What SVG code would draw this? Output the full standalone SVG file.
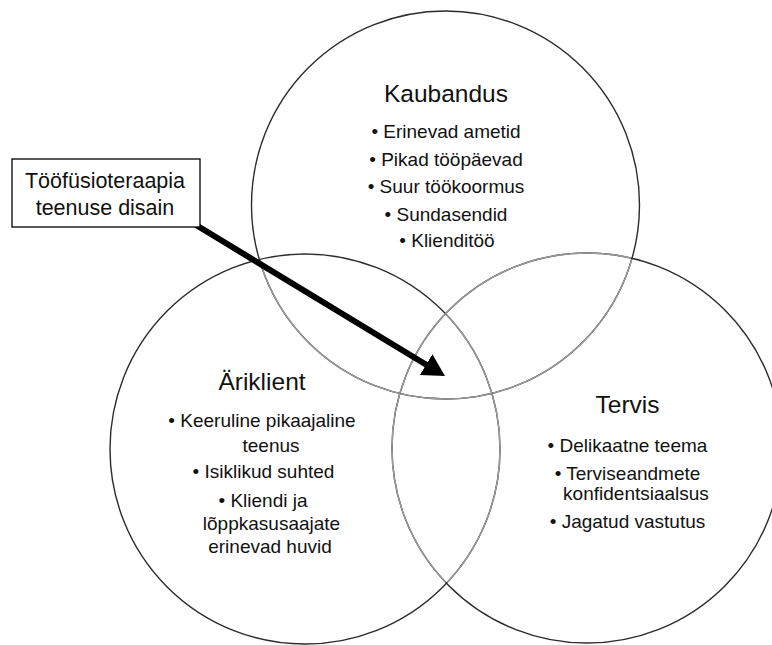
<svg xmlns="http://www.w3.org/2000/svg" width="772" height="645" viewBox="0 0 772 645">
  <style>
    .ring { fill: none; stroke: #2b2b2b; stroke-width: 1.4; }
    .ring-inner { fill: none; stroke: #9a9a9a; stroke-width: 1.4; }
    text { font-family: "Liberation Sans", Arial, sans-serif; fill: #111111; text-anchor: middle; }
    .title { font-size: 24.5px; }
    .item { font-size: 19px; }
    .label { font-size: 21.5px; }
    .box { fill: #ffffff; stroke: #000000; stroke-width: 1.3; }
    .arrow { fill: none; stroke: #000000; stroke-width: 6; }
  </style>
  <defs>
    <marker id="head" viewBox="0 0 22 24" refX="4" refY="12" markerWidth="22" markerHeight="24" markerUnits="userSpaceOnUse" orient="auto">
      <path d="M0,0 L22,12 L0,24 z" fill="#000000"/>
    </marker>
    <!-- areas covered by the other circles: outlines there are drawn lighter -->
    <clipPath id="in-left-right">
      <circle cx="305" cy="449" r="194"/>
      <circle cx="587" cy="448" r="194"/>
    </clipPath>
    <clipPath id="in-right">
      <circle cx="587" cy="448" r="194"/>
    </clipPath>
    <clipPath id="in-top-left">
      <circle cx="445.5" cy="205" r="193"/>
      <circle cx="305" cy="449" r="194"/>
    </clipPath>
  </defs>

  <rect x="0" y="0" width="772" height="645" fill="#ffffff"/>

  <g id="kaubandus">
    <circle class="ring" cx="445.5" cy="205" r="194"/>
    <circle class="ring-inner" cx="445.5" cy="205" r="194" clip-path="url(#in-left-right)"/>
    <text class="title" x="446" y="102">Kaubandus</text>
    <text class="item" x="446" y="138">• Erinevad ametid</text>
    <text class="item" x="446" y="166">• Pikad tööpäevad</text>
    <text class="item" x="446" y="193">• Suur töökoormus</text>
    <text class="item" x="446" y="221">• Sundasendid</text>
    <text class="item" x="447" y="247">• Klienditöö</text>
  </g>

  <g id="ariklient">
    <circle class="ring" cx="305" cy="449" r="195"/>
    <circle class="ring-inner" cx="305" cy="449" r="195" clip-path="url(#in-right)"/>
    <text class="title" x="262" y="390">Äriklient</text>
    <text class="item" x="262" y="427">• Keeruline pikaajaline</text>
    <text class="item" x="271" y="452">teenus</text>
    <text class="item" x="263.5" y="478">• Isiklikud suhted</text>
    <text class="item" x="263" y="507">• Kliendi ja</text>
    <text class="item" x="271.5" y="530">lõppkasusaajate</text>
    <text class="item" x="270" y="553">erinevad huvid</text>
  </g>

  <g id="tervis">
    <circle class="ring" cx="587" cy="448" r="195"/>
    <circle class="ring-inner" cx="587" cy="448" r="195" clip-path="url(#in-top-left)"/>
    <text class="title" x="627.5" y="413">Tervis</text>
    <text class="item" x="627.5" y="452">• Delikaatne teema</text>
    <text class="item" x="627.5" y="480">• Terviseandmete</text>
    <text class="item" x="636" y="500">konfidentsiaalsus</text>
    <text class="item" x="627.5" y="528">• Jagatud vastutus</text>
  </g>

  <!-- connectors -->
  <g id="connectors">
    <path class="arrow" d="M196,225 L429.6,366.7" marker-end="url(#head)"/>
  </g>

  <g id="design-label">
    <rect class="box" x="12" y="159" width="188" height="68"/>
    <text class="label" x="105" y="188">Tööfüsioteraapia</text>
    <text class="label" x="105" y="215">teenuse disain</text>
  </g>
</svg>
